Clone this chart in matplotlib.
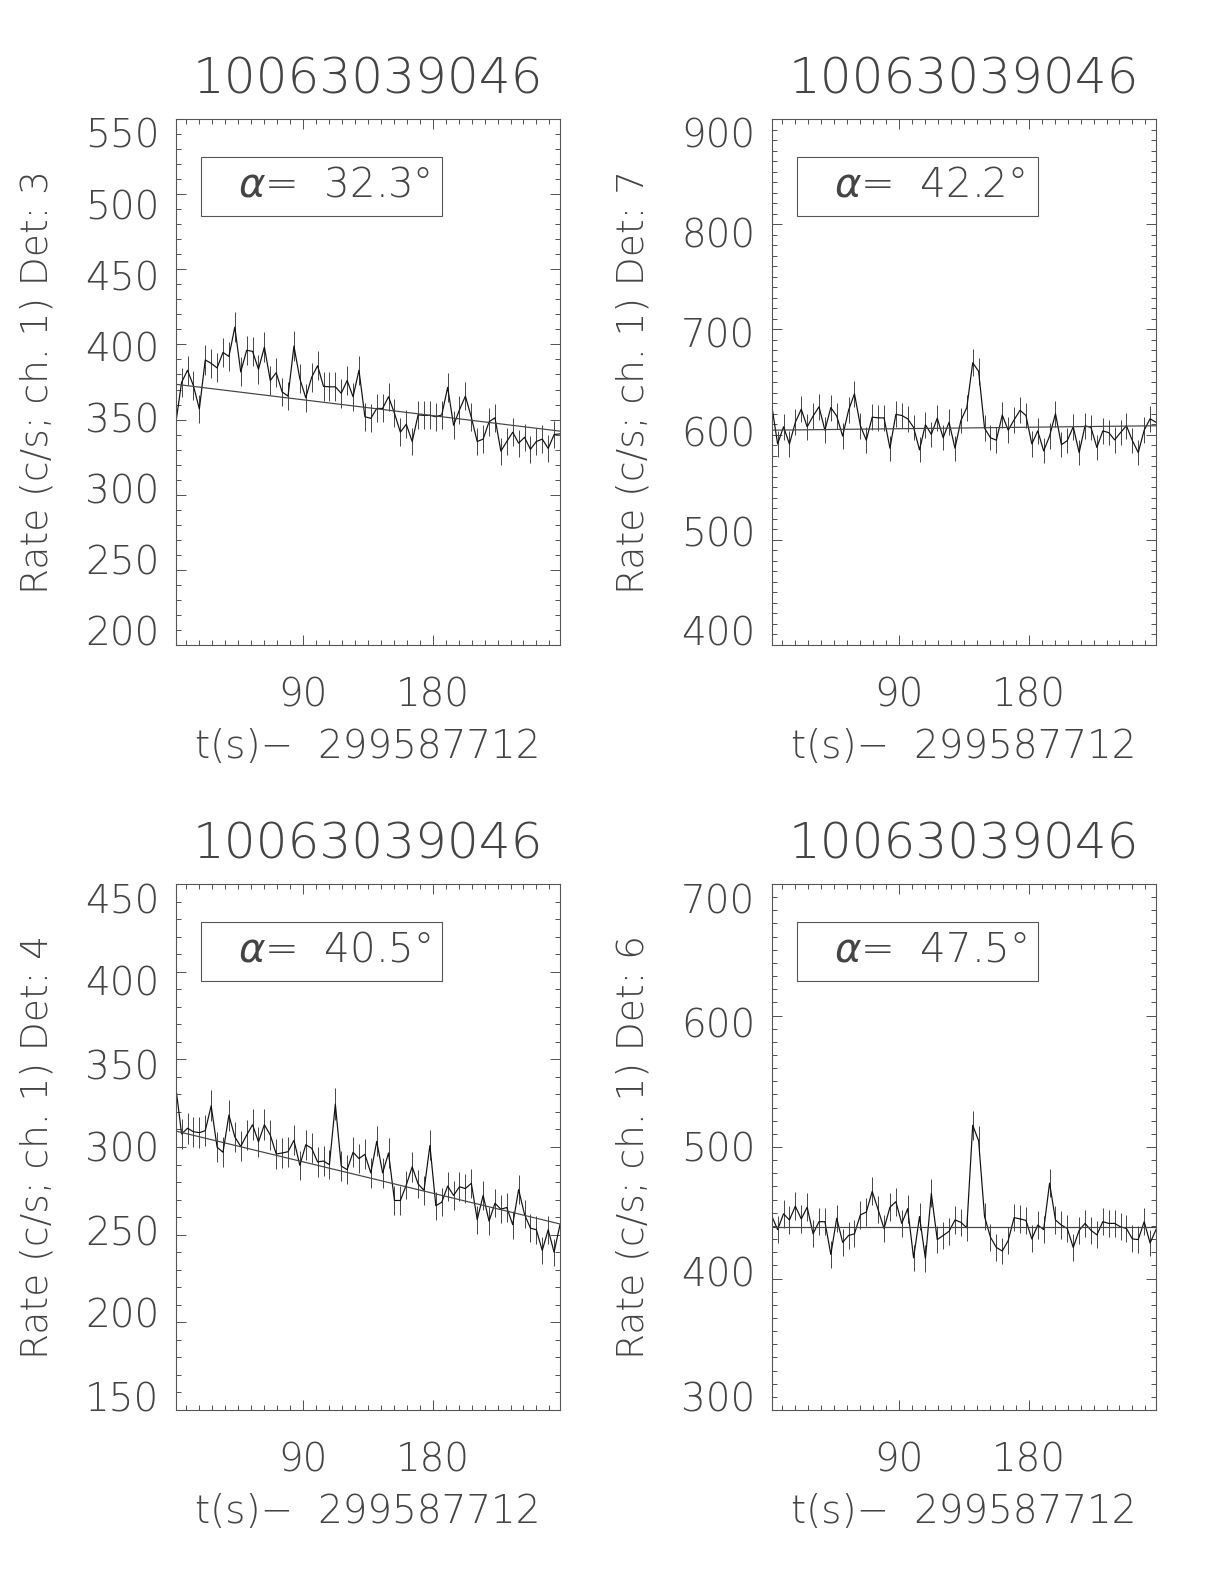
import numpy as np
import matplotlib
matplotlib.use("Agg")
import matplotlib.pyplot as plt
from matplotlib.patches import Rectangle
from matplotlib.ticker import MultipleLocator
import matplotlib.transforms as mtransforms

# ---------------- data ----------------
obs_id = "10063039046"
t_offset = "299587712"
bin_width = 4.096
t_start = 2.048
n_bins = 66
time = t_start + bin_width * np.arange(n_bins)

det3_rate = [347.3, 374.8, 382.8, 372.5, 357.0, 389.7, 387.4, 384.4, 394.7, 392.0,
             411.5, 381.7, 396.1, 395.4, 383.5, 398.2, 376.0, 381.2, 368.4, 365.6,
             398.9, 377.1, 364.5, 378.2, 385.8, 372.1, 371.8, 371.8, 367.5, 376.0,
             365.2, 382.8, 351.9, 350.8, 357.4, 357.4, 365.2, 354.2, 341.6, 346.9,
             335.4, 353.1, 352.8, 352.8, 351.9, 353.1, 371.4, 346.2, 356.5, 365.6,
             351.5, 335.4, 337.0, 348.5, 351.2, 329.0, 335.4, 341.6, 334.3, 338.2,
             330.2, 335.4, 337.0, 330.8, 340.0, 340.5]
det7_rate = [628.0, 591.1, 607.4, 591.1, 611.7, 624.1, 607.4, 617.6, 626.4, 604.2,
             625.7, 617.6, 598.6, 623.1, 638.8, 608.4, 594.7, 616.6, 615.9, 615.9,
             587.1, 619.2, 618.2, 615.0, 606.8, 585.5, 609.4, 600.2, 615.6, 597.0,
             611.7, 587.1, 613.3, 625.7, 668.3, 660.1, 606.1, 597.0, 594.7, 618.6,
             604.2, 614.0, 623.1, 618.2, 591.1, 603.5, 584.5, 598.6, 619.9, 590.4,
             594.3, 607.4, 582.9, 608.4, 606.8, 587.8, 603.5, 601.9, 595.0, 601.9,
             608.4, 594.3, 582.9, 604.2, 615.0, 611.7]
det4_rate = [334.7, 307.4, 310.7, 308.7, 308.2, 309.3, 323.5, 299.9, 297.0, 318.2,
             305.8, 300.3, 306.8, 312.7, 302.9, 312.7, 306.8, 296.0, 296.6, 297.3,
             303.8, 289.5, 301.3, 299.3, 291.5, 292.0, 289.9, 324.5, 289.1, 287.1,
             297.0, 293.4, 295.8, 285.2, 303.2, 285.2, 296.6, 269.5, 269.5, 278.3,
             288.7, 278.9, 275.3, 300.9, 266.5, 268.5, 277.7, 272.4, 277.3, 276.3,
             279.3, 258.6, 272.4, 257.7, 267.9, 264.5, 265.5, 255.7, 275.7, 261.6,
             253.7, 252.8, 241.0, 252.8, 240.0, 255.7]
det6_rate = [447.6, 437.2, 449.2, 444.5, 455.0, 445.3, 454.2, 434.0, 443.2, 443.2,
             418.3, 445.8, 427.5, 432.7, 434.0, 448.4, 450.5, 466.2, 452.4, 438.0,
             454.2, 458.4, 441.9, 453.1, 415.7, 447.1, 415.2, 464.7, 429.6, 432.7,
             435.9, 444.5, 442.7, 438.5, 516.5, 504.7, 447.1, 431.4, 423.6, 420.9,
             428.8, 446.3, 445.3, 444.2, 430.1, 440.6, 437.2, 472.5, 444.5, 440.6,
             438.0, 423.6, 436.6, 441.9, 436.6, 433.2, 443.2, 441.9, 441.9, 439.3,
             438.0, 430.1, 429.6, 443.2, 427.0, 437.2]

# linear background fit: value at first and last bin
det3_fit = [373.5, 342.3]
det7_fit = [604.2, 608.4]
det4_fit = [309.1, 256.1]
det6_fit = [439.0, 439.0]

detectors = [3, 7, 4, 6]
alpha_deg = [32.3, 42.2, 40.5, 47.5]
rates = [det3_rate, det7_rate, det4_rate, det6_rate]
fits = [det3_fit, det7_fit, det4_fit, det6_fit]
y_ranges = [(200, 550), (400, 900), (150, 450), (300, 700)]
y_major = [50, 100, 50, 100]

# ---------------- style ----------------
plt.rcParams["font.family"] = ["DejaVu Sans"]
plt.rcParams["font.weight"] = "light"
plt.rcParams["axes.titleweight"] = "light"
plt.rcParams["axes.labelweight"] = "light"
plt.rcParams["mathtext.fontset"] = "custom"
plt.rcParams["mathtext.it"] = "DejaVu Sans:italic:light"
plt.rcParams["mathtext.rm"] = "DejaVu Sans:light"
txt_color = "#444444"
axis_color = "#555555"
px = 0.72  # one pixel in points at dpi=100

fig = plt.figure(figsize=(12.24, 15.84), dpi=100)
left_cols = [175.7 / 1224, 771.7 / 1224]
width = 384.3 / 1224
height = 526 / 1584
bottoms = [(1584 - 645) / 1584, (1584 - 1410) / 1584]

axes = []
for k in range(4):
    row, col = divmod(k, 2)
    ax = fig.add_axes([left_cols[col], bottoms[row], width, height])
    axes.append(ax)
    rate = np.asarray(rates[k])
    err = np.sqrt(rate / bin_width)
    ax.vlines(time, rate - err, rate + err, color="#4a4a4a", lw=1.0 * px)
    ax.plot(time, rate, color="#111111", lw=1.2 * px)
    ax.plot([time[0], time[-1]], fits[k], color="#444444", lw=1.2 * px)

    lo, hi = y_ranges[k]
    ax.set_xlim(time[0], time[-1])
    ax.set_ylim(lo, hi)
    ax.xaxis.set_major_locator(MultipleLocator(90))
    ax.xaxis.set_minor_locator(MultipleLocator(9))
    ax.yaxis.set_major_locator(MultipleLocator(y_major[k]))
    ax.yaxis.set_minor_locator(MultipleLocator(10))
    ax.tick_params(which="both", direction="in", top=True, right=True,
                   color=axis_color, width=1.0 * px, labelcolor=txt_color,
                   labelsize=28)
    ax.tick_params(which="major", length=7)
    ax.tick_params(which="minor", length=3.8)
    ax.tick_params(axis="y", which="major", pad=11.8)
    ax.tick_params(axis="x", which="major", pad=22.5)
    for sp in ax.spines.values():
        sp.set_color(axis_color)
        sp.set_linewidth(1.1 * px)

    ax.set_title(obs_id, fontsize=36, color=txt_color, pad=18.5, fontweight="light")
    ax.set_xlabel("t(s)\u2212  " + t_offset, fontsize=28, color=txt_color,
                  labelpad=10, fontweight="light")
    ax.set_ylabel("Rate (c/s; ch. 1) Det: %d" % detectors[k], fontsize=27,
                  color=txt_color, labelpad=22, fontweight="light")

    ax.add_patch(Rectangle((0.066, 0.816), 0.628, 0.112, transform=ax.transAxes,
                           fill=False, ec=axis_color, lw=1.1 * px))
    ax.text(0.162, 0.852, "$\\alpha$=  %.1f\u00b0" % alpha_deg[k], transform=ax.transAxes,
            ha="left", va="baseline", fontsize=29, color=txt_color, fontweight="light")

# y tick labels are slightly compressed toward the axis centre, as in the original
fig.canvas.draw()
for k, ax in enumerate(axes):
    lo, hi = y_ranges[k]
    mid = 0.5 * (lo + hi)
    for tick in ax.yaxis.get_major_ticks():
        v = tick.get_loc()
        if v is None or v < lo - 1e-6 or v > hi + 1e-6:
            continue
        dy = -(v - mid) / (hi - lo) * 2 * 14 / 100.0
        tick.label1.set_transform(tick.label1.get_transform() +
                                  mtransforms.ScaledTranslation(0, dy, fig.dpi_scale_trans))

fig.savefig("out.png", dpi=100, facecolor="white")
